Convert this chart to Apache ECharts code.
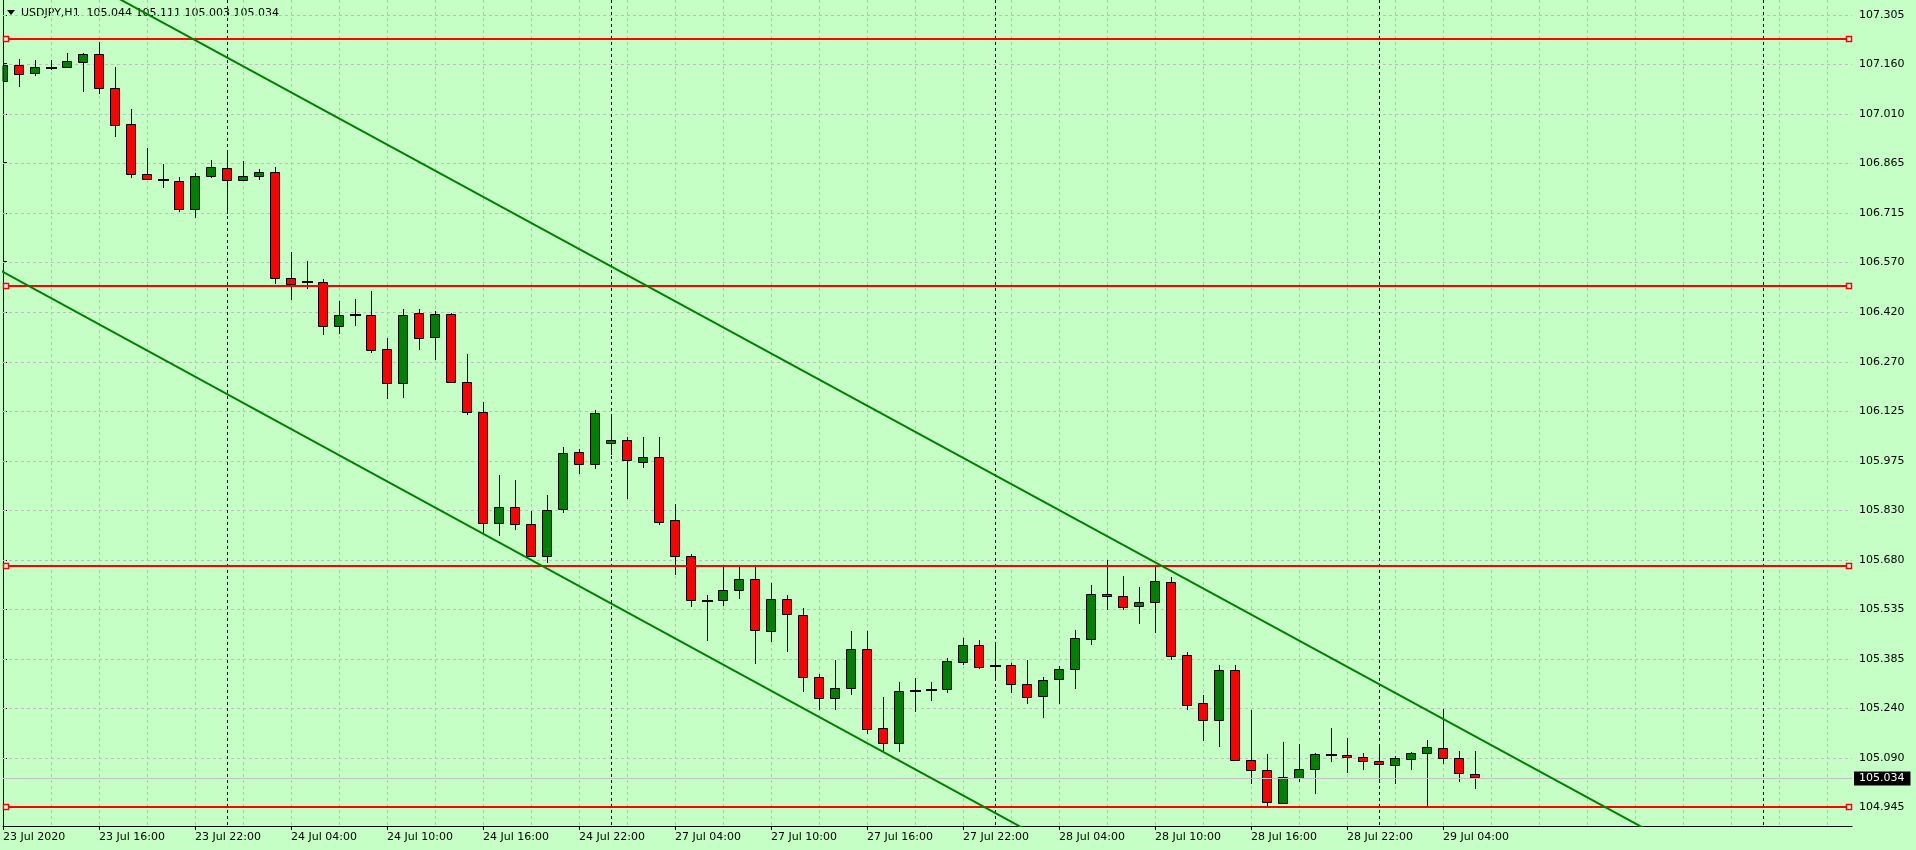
<!DOCTYPE html>
<html><head><meta charset="utf-8">
<script src="https://cdn.jsdelivr.net/npm/echarts@6/dist/echarts.min.js"></script>
<style>html,body{margin:0;padding:0;background:#C6FFC6;}#chart{width:1916px;height:850px;}</style>
</head><body><div id="chart"></div>
<script>
const titleSymbol = 'USDJPY,H1';
const titleOHLC = '105.044 105.111 105.003 105.034';

const opens = [107.109,107.156,107.131,107.148,107.151,107.166,107.188,107.087,106.979,106.830,
106.813,106.809,106.728,106.826,106.848,106.814,106.824,106.837,106.520,106.508,
106.508,106.377,106.410,106.410,106.309,106.207,106.416,106.344,106.413,106.210,
106.121,105.790,105.838,105.787,105.692,105.832,106.002,105.966,106.029,106.038,
105.972,105.987,105.799,105.692,105.559,105.561,105.591,105.623,105.468,105.564,
105.516,105.331,105.269,105.299,105.415,105.179,105.135,105.292,105.295,105.296,
105.376,105.427,105.365,105.367,105.311,105.275,105.325,105.355,105.447,105.579,
105.573,105.545,105.557,105.614,105.397,105.254,105.205,105.352,105.084,105.054,
104.956,105.030,105.057,105.100,105.099,105.093,105.081,105.069,105.089,105.105,
105.120,105.090,105.044];
const highs = [107.168,107.173,107.171,107.171,107.192,107.191,107.225,107.150,107.025,106.909,
106.861,106.822,106.833,106.873,106.896,106.869,106.845,106.852,106.600,106.572,
106.517,106.453,106.459,106.483,106.343,106.428,106.428,106.423,106.418,106.295,
106.152,105.934,105.919,105.826,105.874,106.017,106.012,106.128,106.110,106.047,
106.047,106.047,105.848,105.698,105.576,105.661,105.664,105.661,105.613,105.577,
105.538,105.340,105.383,105.469,105.469,105.274,105.317,105.329,105.318,105.389,
105.449,105.443,105.431,105.374,105.383,105.332,105.364,105.472,105.607,105.681,
105.633,105.601,105.663,105.629,105.406,105.278,105.367,105.368,105.234,105.103,
105.139,105.133,105.105,105.180,105.151,105.105,105.129,105.097,105.108,105.145,
105.236,105.112,105.111];
const lows = [107.069,107.094,107.127,107.144,107.151,107.079,107.073,106.944,106.823,106.815,
106.793,106.722,106.704,106.823,106.714,106.813,106.815,106.505,106.460,106.492,
106.355,106.358,106.382,106.302,106.165,106.168,106.311,106.281,106.210,106.115,
105.760,105.756,105.774,105.692,105.675,105.825,105.941,105.956,105.996,105.867,
105.959,105.789,105.640,105.545,105.444,105.547,105.569,105.375,105.441,105.411,
105.292,105.238,105.238,105.283,105.164,105.109,105.113,105.232,105.265,105.289,
105.372,105.360,105.333,105.288,105.255,105.214,105.256,105.301,105.432,105.535,
105.536,105.494,105.465,105.385,105.238,105.146,105.128,105.084,105.017,104.949,
104.956,105.022,104.988,105.083,105.050,105.059,105.029,105.015,105.059,104.952,
105.077,105.023,105.003];
const closes = [107.156,107.128,107.149,107.148,107.167,107.188,107.086,106.978,106.832,106.817,
106.813,106.728,106.824,106.851,106.814,106.824,106.836,106.520,106.502,106.508,
106.379,106.410,106.410,106.306,106.207,106.410,106.342,106.413,106.210,106.121,
105.790,105.838,105.787,105.692,105.829,105.999,105.966,106.118,106.038,105.978,
105.987,105.795,105.692,105.561,105.559,105.591,105.623,105.471,105.564,105.519,
105.331,105.269,105.299,105.415,105.176,105.135,105.290,105.292,105.295,105.379,
105.427,105.363,105.365,105.310,105.272,105.322,105.355,105.448,105.579,105.573,
105.542,105.555,105.617,105.396,105.250,105.205,105.352,105.084,105.054,104.959,
105.033,105.057,105.102,105.100,105.093,105.081,105.072,105.090,105.105,105.123,
105.090,105.045,105.034];

const xTickIdx = [0,6,12,18,24,30,36,42,48,54,60,66,72,78,84,90];
const xTickLabels = ['23 Jul 2020','23 Jul 16:00','23 Jul 22:00','24 Jul 04:00','24 Jul 10:00','24 Jul 16:00','24 Jul 22:00',
  '27 Jul 04:00','27 Jul 10:00','27 Jul 16:00','27 Jul 22:00','28 Jul 04:00','28 Jul 10:00','28 Jul 16:00','28 Jul 22:00','29 Jul 04:00'];
const yTicks = [107.305,107.160,107.010,106.865,106.715,106.570,106.420,106.270,106.125,105.975,105.830,105.680,105.535,105.385,105.240,105.090,104.945];
const gridXIdx = [3,6,9,12,15,18,21,24,27,30,33,36,39,42,45,48,51,54,57,60,63,66,69,72,75,78,81,84,87,90,93,96,99,102,105,108,111,114];
const daySepIdx = [14,38,62,86,110];
const levelPrices = [107.2335,106.4980,105.6640,104.9450];
const upperTrendAnchors = [[10.84,107.2603],[92.92,105.1318]];
const lowerTrendAnchors = [[14.79,106.1548],[55.94,105.0850]];
const lastPrice = 105.034;

const yMin = 104.8883, yMax = 107.3497;
const xMax = 115.5625;
const FONT = 'DejaVu Sans';

function extend(a) {
  const s = (a[1][1]-a[0][1])/(a[1][0]-a[0][0]);
  return [[-3, a[0][1]+s*(-3-a[0][0])],[120, a[0][1]+s*(120-a[0][0])]];
}

const candleData = opens.map((o,i)=>[i,o,closes[i],lows[i],highs[i]]);

function renderCandle(params, api) {
  const i = api.value(0), o = api.value(1), c = api.value(2), l = api.value(3), h = api.value(4);
  const cs = params.coordSys;
  const pO = api.coord([i,o]), pC = api.coord([i,c]), pL = api.coord([i,l]), pH = api.coord([i,h]);
  const cx = Math.round(pO[0]);
  const top = Math.round(Math.min(pO[1],pC[1])), bot = Math.round(Math.max(pO[1],pC[1]));
  const children = [];
  if (cx + 0.5 >= cs.x) {
    children.push({type:'line', shape:{x1:cx+0.5,y1:Math.round(pH[1]),x2:cx+0.5,y2:Math.round(pL[1])+1}, style:{stroke:'#000',lineWidth:1}});
  }
  if (bot - top < 1) {
    const r = echarts.graphic.clipRectByRect({x:cx-5,y:top-1,width:11,height:2}, cs);
    if (r) children.push({type:'rect', shape:r, style:{fill:'#000'}});
  } else {
    const r = echarts.graphic.clipRectByRect({x:cx-4.5,y:top+0.5,width:9,height:bot-top}, cs);
    if (r) children.push({type:'rect', shape:r, style:{fill: c>o ? '#008000' : '#FF0000', stroke:'#000', lineWidth:1}});
  }
  return {type:'group', children};
}
function renderHGrid(params, api) {
  const cs = params.coordSys;
  const y = Math.round(api.coord([0, api.value(1)])[1]) + 0.5;
  return {type:'line', shape:{x1:cs.x, y1:y, x2:cs.x+cs.width, y2:y}, style:{stroke:'#C4BAC4', lineWidth:1, lineDash:[3,3]}};
}
function renderVGrid(params, api) {
  const cs = params.coordSys;
  const x = Math.round(api.coord([api.value(0), yMin])[0]) + 0.5;
  return {type:'line', shape:{x1:x, y1:cs.y, x2:x, y2:cs.y+cs.height}, style:{stroke:'#C4BAC4', lineWidth:1, lineDash:[3,3]}};
}
function renderSep(params, api) {
  const cs = params.coordSys;
  const x = Math.round(api.coord([api.value(0), yMin])[0]) + 0.5;
  return {type:'line', shape:{x1:x, y1:cs.y, x2:x, y2:cs.y+cs.height}, style:{stroke:'#000', lineWidth:1, lineDash:[3,3]}};
}
function renderLevel(params, api) {
  const cs = params.coordSys;
  const y = Math.round(api.coord([0, api.value(1)])[1]);
  return {type:'group', children:[
    {type:'line', shape:{x1:cs.x, y1:y, x2:cs.x+cs.width, y2:y}, style:{stroke:'#FF0000', lineWidth:2}},
    {type:'rect', shape:{x:cs.x+0.5, y:y-2.5, width:5, height:5}, style:{fill:'#FFFFFF', stroke:'#FF0000', lineWidth:1.5}},
    {type:'rect', shape:{x:cs.x+cs.width-5.5, y:y-2.5, width:5, height:5}, style:{fill:'#FFFFFF', stroke:'#FF0000', lineWidth:1.5}}
  ]};
}

const chart = echarts.init(document.getElementById('chart'), null, {renderer:'canvas'});
chart.setOption({
  animation:false,
  backgroundColor:'#C6FFC6',
  textStyle:{fontFamily:FONT},
  grid:{left:3, right:64, top:0, bottom:24, outerBoundsMode:'none', containLabel:false},
  graphic:[
    {type:'polygon', shape:{points:[[7,10],[15,10],[11,15]]}, style:{fill:'#000'}},
    {type:'text', x:21, y:13, style:{text:titleSymbol+'  '+titleOHLC, fill:'#000', fontSize:11, fontFamily:FONT, verticalAlign:'middle'}}
  ],
  xAxis:{type:'value', min:0, max:xMax, interval:6,
    axisLine:{show:true, onZero:false, lineStyle:{color:'#000', width:1}},
    axisTick:{show:true, customValues:xTickIdx, length:4, lineStyle:{color:'#000'}},
    axisLabel:{show:true, customValues:xTickIdx, align:'left', margin:6, color:'#000', fontSize:11, fontFamily:FONT,
      formatter:(v)=>{const k = xTickIdx.indexOf(Math.round(v)); return k>=0 ? xTickLabels[k] : '';}},
    splitLine:{show:false}},
  yAxis:[
    {type:'value', position:'right', min:yMin, max:yMax, scale:true,
      axisLine:{show:true, lineStyle:{color:'#000', width:1}},
      axisTick:{show:true, customValues:yTicks, length:4, lineStyle:{color:'#000'}},
      axisLabel:{show:true, customValues:yTicks, margin:7, color:'#000', fontSize:11, fontFamily:FONT, formatter:(v)=>Number(v).toFixed(3)},
      splitLine:{show:false}},
    {type:'value', position:'left', min:yMin, max:yMax, scale:true,
      axisLine:{show:true, lineStyle:{color:'#000', width:1}},
      axisTick:{show:false}, axisLabel:{show:false}, splitLine:{show:false}}
  ],
  series:[
    {type:'custom', name:'hgrid', z:1, silent:true, renderItem:renderHGrid, data:yTicks.map(v=>[0,v]), encode:{x:0,y:1}},
    {type:'custom', name:'vgrid', z:1, silent:true, renderItem:renderVGrid, data:gridXIdx.map(v=>[v,yMin]), encode:{x:0,y:1}},
    {type:'custom', name:'sep', z:1, silent:true, renderItem:renderSep, data:daySepIdx.map(v=>[v,yMin]), encode:{x:0,y:1}},
    {type:'custom', name:'candles', z:3, silent:true, renderItem:renderCandle, data:candleData, encode:{x:0,y:[1,2,3,4]}},
    {type:'custom', name:'levels', z:4, silent:true, renderItem:renderLevel, data:levelPrices.map(v=>[0,v]), encode:{x:0,y:1}},
    {type:'line', name:'upper', z:5, silent:true, clip:true, symbol:'none', data:extend(upperTrendAnchors),
      lineStyle:{color:'#008000', width:2},
      markLine:{silent:true, symbol:['none','none'], animation:false,
        lineStyle:{color:'#C0C0C0', type:'solid', width:1},
        label:{show:true, position:'end', distance:2, formatter:lastPrice.toFixed(3), backgroundColor:'#000', color:'#fff',
          padding:[2,6,1,5], fontSize:11, fontFamily:FONT},
        emphasis:{disabled:true},
        data:[{yAxis:lastPrice}]}},
    {type:'line', name:'lower', z:5, silent:true, clip:true, symbol:'none', data:extend(lowerTrendAnchors),
      lineStyle:{color:'#008000', width:2}}
  ]
});
</script>
</body></html>
